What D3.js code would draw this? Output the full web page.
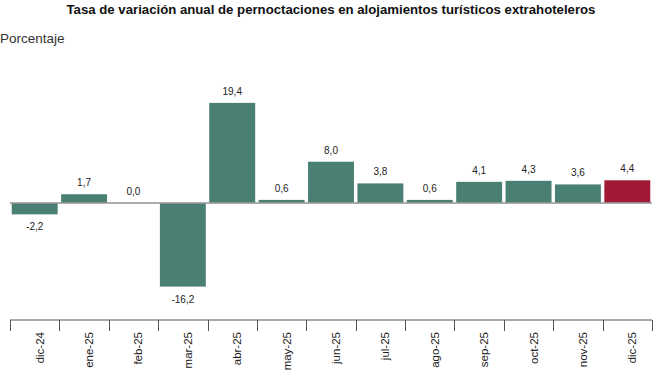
<!DOCTYPE html>
<html>
<head>
<meta charset="utf-8">
<script src="https://cdn.jsdelivr.net/npm/d3@7"></script>
<style>
  body { margin: 0; background: #fff; }
  text { font-family: "Liberation Sans", Arial, sans-serif; }
</style>
</head>
<body>
<svg id="chart" width="662" height="371"></svg>
<script>
let svg = d3.select("#chart");

// Data
let months = ["dic-24", "ene-25", "feb-25", "mar-25", "abr-25", "may-25", "jun-25",
    "jul-25", "ago-25", "sep-25", "oct-25", "nov-25", "dic-25"];
let values = [-2.2, 1.7, 0.0, -16.2, 19.4, 0.6, 8.0, 3.8, 0.6, 4.1, 4.3, 3.6, 4.4];

let TEAL = "#4a7f74";
let RED = "#a01a37";

// Scales
let x = d3.scaleBand()
    .domain(months)
    .range([10, 652])
    .paddingInner(0.07)
    .paddingOuter(0.035);

let y = d3.scaleLinear()
    .domain([-20, 20])
    .range([306.2, 99.8]);

// Title
svg.append("text")
    .attr("x", 331)
    .attr("y", 14)
    .attr("text-anchor", "middle")
    .style("font-size", "13.2px")
    .style("font-weight", "bold")
    .style("fill", "#111")
    .text("Tasa de variación anual de pernoctaciones en alojamientos turísticos extrahoteleros");

svg.append("text")
    .attr("x", 0)
    .attr("y", 43)
    .style("font-size", "13.5px")
    .style("fill", "#333")
    .text("Porcentaje");

// Bars
svg.selectAll(".bar")
    .data(values)
    .enter()
    .append("rect")
    .attr("class", "bar")
    .attr("x", (d, i) => x(months[i]))
    .attr("width", x.bandwidth())
    .attr("y", d => y(Math.max(0, d)))
    .attr("height", d => Math.abs(y(d) - y(0)))
    .style("fill", (d, i) => i == values.length - 1 ? RED : TEAL);

// Zero line
svg.append("line")
    .attr("x1", 10)
    .attr("x2", 652)
    .attr("y1", y(0))
    .attr("y2", y(0))
    .style("stroke", "#999")
    .style("stroke-width", 2)
    .style("stroke-opacity", 0.8);

// Value labels
let fmt = d3.format(".1f");
svg.selectAll(".label")
    .data(values)
    .enter()
    .append("text")
    .attr("class", "label")
    .attr("x", (d, i) => x(months[i]) + x.bandwidth() / 2)
    .attr("y", d => d < 0 ? y(d) + 16 : y(d) - 8)
    .attr("text-anchor", "middle")
    .style("font-size", "10px")
    .style("fill", "#222")
    .text(d => fmt(d).replace(".", ",").replace("\u2212", "-"));

// X axis
let axisY = 320;
let axisG = svg.append("g").attr("class", "x-axis");
axisG.append("line")
    .attr("x1", 10).attr("x2", 652)
    .attr("y1", axisY).attr("y2", axisY)
    .style("stroke", "#555")
    .style("stroke-width", 1);

let tickPos = months.map(m => x(m) - x.step() * x.paddingInner() / 2);
tickPos.push(652);
axisG.selectAll(".tick")
    .data(tickPos)
    .enter()
    .append("line")
    .attr("class", "tick")
    .attr("x1", d => Math.round(d) + 0.5)
    .attr("x2", d => Math.round(d) + 0.5)
    .attr("y1", axisY)
    .attr("y2", axisY + 11)
    .style("stroke", "#555");

axisG.selectAll(".xlabel")
    .data(months)
    .enter()
    .append("text")
    .attr("class", "xlabel")
    .attr("transform", d => `translate(${x(d) + x.bandwidth() / 2 + 9},${axisY + 12}) rotate(-90)`)
    .attr("text-anchor", "end")
    .style("font-size", "11.5px")
    .style("fill", "#222")
    .text(d => d);
</script>
</body>
</html>
